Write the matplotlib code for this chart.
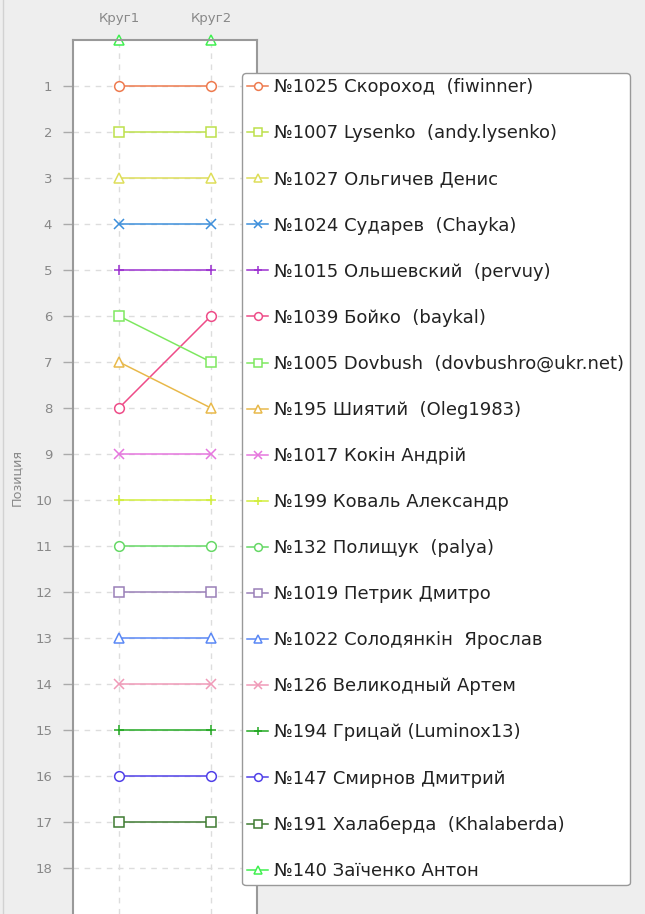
"""
Bump chart: positions of players after two rounds.
"""

import matplotlib

matplotlib.use("Agg")
import matplotlib.pyplot as plt
from matplotlib.lines import Line2D

rounds = ["Круг1", "Круг2"]

players = [
    "№1025 Скороход  (fiwinner)",
    "№1007 Lysenko  (andy.lysenko)",
    "№1027 Ольгичев Денис",
    "№1024 Сударев  (Chayka)",
    "№1015 Ольшевский  (pervuy)",
    "№1039 Бойко  (baykal)",
    "№1005 Dovbush  (dovbushro@ukr.net)",
    "№195 Шиятий  (Oleg1983)",
    "№1017 Кокін Андрій",
    "№199 Коваль Александр",
    "№132 Полищук  (palya)",
    "№1019 Петрик Дмитро",
    "№1022 Солодянкін  Ярослав",
    "№126 Великодный Артем",
    "№194 Грицай (Luminox13)",
    "№147 Смирнов Дмитрий",
    "№191 Халаберда  (Khalaberda)",
    "№140 Заїченко Антон",
]

# position in round 1 / round 2 (the last one sits on the top edge)
pos_round1 = [1, 2, 3, 4, 5, 8, 6, 7, 9, 10, 11, 12, 13, 14, 15, 16, 17, 0]
pos_round2 = [1, 2, 3, 4, 5, 6, 7, 8, 9, 10, 11, 12, 13, 14, 15, 16, 17, 0]

colors = [
    "#ee7a4e", "#bde04c", "#dede5a", "#3d8fdb", "#9b30d0", "#ee4c88",
    "#7ee860", "#e8b94b", "#e676de", "#d2ee3c", "#66d866", "#9a80b8",
    "#5a88f5", "#f09ab8", "#22a822", "#5040e8", "#3e7a32", "#40f050",
]
markers = ["o", "s", "^", "x", "+"]

W, H = 645, 914
fig = plt.figure(figsize=(W / 100, H / 100), dpi=100)
fig.patch.set_facecolor("#eeeeee")
fig.add_artist(
    Line2D([2.5 / W, 2.5 / W], [0, 1], transform=fig.transFigure,
           color="#d2d2d2", lw=1)
)

ax = fig.add_axes([73 / W, 0, 184 / W, 1 - 40 / H])
ax.set_facecolor("white")

handles = []
for i, name in enumerate(players):
    mk = markers[i % len(markers)]
    (ln,) = ax.plot(
        [0, 1],
        [pos_round1[i], pos_round2[i]],
        color=colors[i],
        lw=1.1,
        marker=mk,
        markersize=7 if mk != "^" else 6.5,
        markerfacecolor="white",
        markeredgecolor=colors[i],
        markeredgewidth=1.1,
        clip_on=False,
        label=name,
        zorder=2,
    )
    handles.append(ln)

ax.set_xlim(-0.5, 1.5)
ax.set_ylim(19, 0)
ax.set_xticks(range(len(rounds)))
ax.set_xticklabels(rounds)
ax.set_yticks(range(1, 19))
ax.xaxis.tick_top()
ax.tick_params(axis="x", length=0, pad=10.5, labelsize=9.5, labelcolor="#888888")
ax.tick_params(axis="y", length=7, width=1, color="#aaaaaa", pad=8,
               labelsize=9.5, labelcolor="#888888")

ax.grid(True, color="#dddddd", linestyle=(0, (4, 4)), linewidth=1)
ax.set_axisbelow(True)
for side in ["left", "right", "top"]:
    ax.spines[side].set_color("#999999")
    ax.spines[side].set_linewidth(1.5)
ax.spines["bottom"].set_visible(False)

ax.set_ylabel("Позиция", fontsize=9.2, color="#888888")
ax.yaxis.set_label_coords(-0.27, 0.5)

leg = ax.legend(
    handles=handles,
    loc="upper left",
    bbox_to_anchor=(242 / W, 1 - 73 / H),
    bbox_transform=fig.transFigure,
    borderaxespad=0,
    fontsize=13,
    labelspacing=1.555,
    borderpad=0.3,
    handlelength=1.16,
    handletextpad=0.33,
    markerscale=0.8,
    fancybox=True,
    framealpha=1,
    edgecolor="#999999",
)
leg.get_frame().set_linewidth(1)
for t in leg.get_texts():
    t.set_color("#222222")

plt.savefig("out.png", dpi=100, facecolor=fig.get_facecolor())
